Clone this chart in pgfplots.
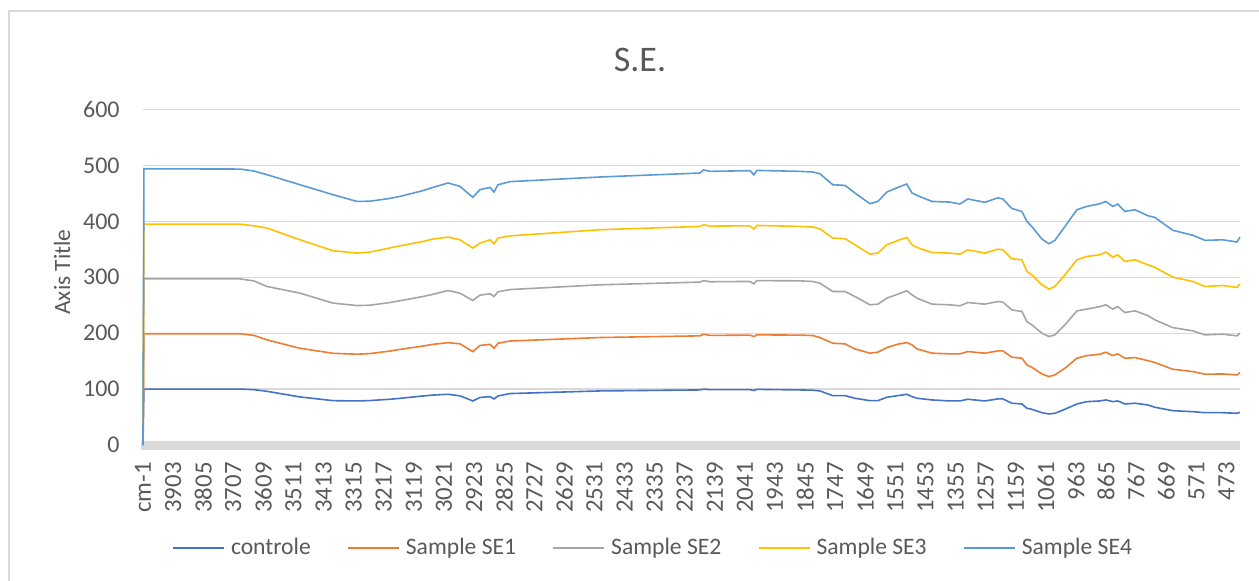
\documentclass[border=0pt]{standalone}
\usepackage{pgfplots}
\pgfplotsset{compat=1.18}
\usepackage{pgfplotstable}
\usepackage{fontspec}
\setmainfont{Carlito}
\definecolor{cC}{HTML}{4472C4}
\definecolor{cA}{HTML}{ED7D31}
\definecolor{cB}{HTML}{A5A5A5}
\definecolor{cD}{HTML}{FFC000}
\definecolor{cE}{HTML}{5B9BD5}
\definecolor{txt}{HTML}{595959}
\definecolor{grd}{HTML}{D9D9D9}

\pgfplotstableread{
w c s1 s2 s3 s4
4001 0 0 0 0 0
3998 100 199 297 395 494
3685 100 199 297 395 493.5
3640 99 196 293.5 392 490
3597 96 188 283.5 388 483.4
3490 86 173 271.6 367 465.5
3382 79.3 164 253.7 347.4 447.6
3304 78.8 162.4 249.4 343.2 435.6
3262 79.5 163.5 250 345 436
3197 81.8 168 254.8 352.5 441
3164 83.5 171 258 356.3 444.6
3089 87.7 177 265.6 364 455
3057 89.3 180 269.5 368.3 460.7
3008 90.7 183 276.3 371.9 468.6
2969 88 181 271.6 367 462.6
2927 78.8 167 258.4 352.2 443
2904 85 178 268 361 456.6
2871 86.5 180 270.4 367 460.7
2858 82.4 173 265.6 360 452.4
2845 87.7 182 274 370 465.5
2806 92 186 278 374 471
2513 96.7 192.2 286.5 385 479.3
2188 98.5 195.2 291.3 390.9 486.4
2175 100 198 294 393.9 492
2155 99 196 292 391.5 489.4
2025 99 196.5 292.5 392 490.6
2012 97.5 194 288.3 386.2 483.4
2002 99.5 197 294 392.7 491.1
1862 98.5 196.5 293.6 390.9 489.4
1820 98 195.8 292.4 389.8 488.3
1797 96.7 192.2 289.5 386.8 485.2
1755 88.3 182.1 274.5 370.1 465.5
1715 88.3 180.8 274.5 368.9 464.3
1683 83.6 171.9 265.6 358.1 450.7
1634 79.3 164.2 250.7 341.4 431.5
1608 79.3 166 251.9 343.2 435.6
1579 85.4 174.2 262.6 358.1 452.4
1543 88.3 180.3 269.8 365.8 460.7
1514 90.7 183.2 275.7 371.2 466.8
1497 86.5 179 268.6 358.1 450.7
1481 83.6 171.9 262.6 353.3 446.4
1432 80.6 164.2 251.9 344.3 435.6
1374 78.8 163 250.7 343.2 434.5
1341 78.8 163 248.9 341.4 431
1315 81.8 167.1 254.8 349.1 440
1260 78.8 164.2 251.9 343.2 434
1217 82.4 168.3 256.6 350.4 442
1201 82.4 168.3 255.5 349.1 440
1172 74.7 157 241.7 333 423
1139 73.4 155.2 238.7 331.2 417.7
1123 65.7 143.2 220.8 310.3 399.8
1107 63.9 139.1 214.9 304.4 390.9
1074 57.8 127.1 200 286.5 368.3
1051 55.5 122.3 193.9 278.8 359.9
1032 56.7 125.3 197 283.5 365.8
999 63.9 137.3 214.9 304.4 390.9
960 73.4 155.2 239.9 331.2 420.8
928 77.5 159.9 243 337.2 426.7
885 78.8 162.4 247.6 340.2 431.5
866 80.6 166 250.7 345 435.6
843 77.5 159.9 243 336 426.7
827 78.8 163 247.6 340.2 430.9
804 73.4 155.2 236.9 328.3 417.7
771 74.7 156.3 239.9 331.2 420.8
729 71.6 150.9 231.5 322.3 410
706 67.5 147.4 223.8 317.6 407
648 61.4 135.5 210 300.3 384
582 59.6 131.3 204.1 292.4 375
543 57.8 126.6 197 283.5 366
485 57.8 127.1 198.2 285.3 367
439 56.7 125.3 195.2 281.7 363
429 58.5 129.4 200 287.7 372
}\data

\begin{document}
\begin{tikzpicture}
\useasboundingbox (0,0) rectangle (629.5pt,290pt);
\draw[grd, line width=0.65pt] (4.5pt,-1pt) -- (4.5pt,284.5pt) -- (630pt,284.5pt);
\node[txt, font=\fontsize{18}{20}\selectfont] at (320pt,260pt) {S.E.};
\node[txt, rotate=90, font=\fontsize{11.7}{13}\selectfont] at (31pt,154pt) {Axis Title};
\begin{axis}[
  at={(71.5pt,67.5pt)}, anchor=south west,
  scale only axis, width=548.5pt, height=167.75pt,
  x dir=reverse, xmin=429, xmax=4001, ymin=0, ymax=600,
  clip=false,
  axis line style={draw=none},
  major tick length=0pt,
  ytick={0,100,...,600},
  ymajorgrids, grid style={grd, line width=0.65pt},
  /pgf/number format/assume math mode=true,
  yticklabel style={anchor=east, inner sep=0pt, text=txt, font=\fontsize{12}{14}\selectfont},
  yticklabel shift=11.5pt,
  xtick={4001,3903,...,473},
  xticklabels={cm-1,3903,3805,3707,3609,3511,3413,3315,3217,3119,3021,2923,2825,2727,2629,2531,2433,2335,2237,2139,2041,1943,1845,1747,1649,1551,1453,1355,1257,1159,1061,963,865,767,669,571,473},
  xticklabel style={rotate=90, anchor=east, inner sep=0pt, text=txt, font=\fontsize{12.4}{14}\selectfont},
  xticklabel shift=8.5pt,
  legend columns=5,
  legend image code/.code={\draw[#1] (0pt,0pt) -- (25.5pt,0pt);},
  legend style={at={(0.021,-0.307)}, anchor=west, draw=none, fill=none,
    font=\fontsize{11.8}{13}\selectfont, text=txt,
    nodes={inner sep=0pt},
    /tikz/every odd column/.append style={column sep=3pt},
    /tikz/every even column/.append style={column sep=18.25pt}},
]
\draw[grd, line width=4.5pt] (axis cs:4008,0) -- (axis cs:429,0);
\addplot[cC, line width=0.8pt] table[x=w,y=c]{\data};
\addplot[cA, line width=0.8pt] table[x=w,y=s1]{\data};
\addplot[cB, line width=0.8pt] table[x=w,y=s2]{\data};
\addplot[cD, line width=0.8pt] table[x=w,y=s3]{\data};
\addplot[cE, line width=0.8pt] table[x=w,y=s4]{\data};
\legend{controle, Sample SE1, Sample SE2, Sample SE3, Sample SE4}
\end{axis}
\end{tikzpicture}
\end{document}
